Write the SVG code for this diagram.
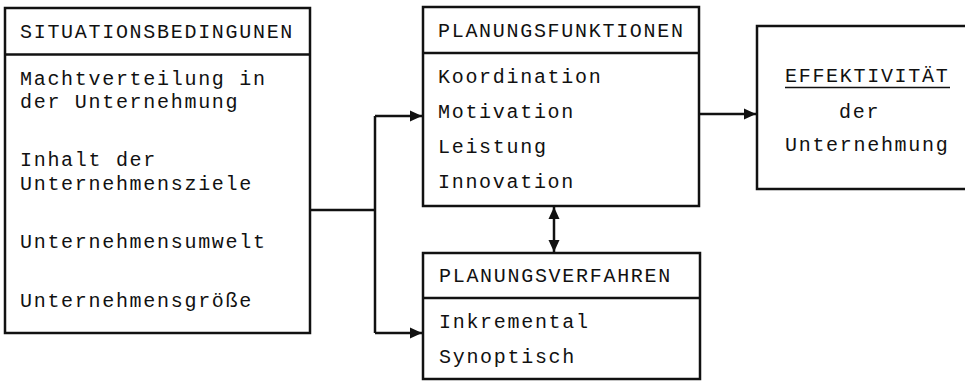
<svg xmlns="http://www.w3.org/2000/svg" width="965" height="381" viewBox="0 0 965 381">
<defs>
<style>
.box{fill:#fff;stroke:#111;stroke-width:2.5}
.div{stroke:#111;stroke-width:2.5;fill:none}
.con{stroke:#111;stroke-width:2.5;fill:none}
text{font-family:"Liberation Mono","DejaVu Sans Mono",monospace;font-size:20px;letter-spacing:1.7px;fill:#111}
</style>
<marker id="ah" markerUnits="userSpaceOnUse" markerWidth="14" markerHeight="12" refX="12" refY="6" orient="auto-start-reverse">
<path d="M0,0.5 L12,6 L0,11.5 Z" fill="#111"/>
</marker>
</defs>
<rect width="965" height="381" fill="#fff"/>
<g id="connectors">
<polyline class="con" points="310,210 375,210"/>
<polyline class="con" points="375,116 375,333"/>
<line class="con" x1="375" y1="116" x2="422" y2="116" marker-end="url(#ah)"/>
<line class="con" x1="375" y1="333" x2="422" y2="333" marker-end="url(#ah)"/>
<line class="con" x1="554" y1="207" x2="554" y2="252" marker-start="url(#ah)" marker-end="url(#ah)"/>
<line class="con" x1="699" y1="114" x2="756" y2="114" marker-end="url(#ah)"/>
</g>
<g id="situationsbedingungen">
<rect class="box" x="5" y="8" width="305" height="325"/>
<line class="div" x1="5" y1="54.5" x2="310" y2="54.5"/>
<text x="20" y="38">SITUATIONSBEDINGUNEN</text>
<text x="20" y="84.5">Machtverteilung in</text>
<text x="20" y="108">der Unternehmung</text>
<text x="20" y="166">Inhalt der</text>
<text x="20" y="190">Unternehmensziele</text>
<text x="20" y="248">Unternehmensumwelt</text>
<text x="20" y="307">Unternehmensgröße</text>
</g>
<g id="planungsfunktionen">
<rect class="box" x="423" y="7" width="276" height="199"/>
<line class="div" x1="423" y1="53" x2="699" y2="53"/>
<text x="438" y="37">PLANUNGSFUNKTIONEN</text>
<text x="438" y="83">Koordination</text>
<text x="438" y="118">Motivation</text>
<text x="438" y="153">Leistung</text>
<text x="438" y="188">Innovation</text>
</g>
<g id="planungsverfahren">
<rect class="box" x="423" y="253" width="277" height="126"/>
<line class="div" x1="423" y1="298" x2="700" y2="298"/>
<text x="439" y="282">PLANUNGSVERFAHREN</text>
<text x="439" y="328">Inkremental</text>
<text x="439" y="363">Synoptisch</text>
</g>
<g id="effektivitaet">
<rect class="box" x="757" y="26" width="220" height="163"/>
<text x="785" y="82">EFFEKTIVITÄT</text>
<line x1="785" y1="87.5" x2="950" y2="87.5" stroke="#111" stroke-width="1.5"/>
<text x="839" y="118">der</text>
<text x="785" y="151">Unternehmung</text>
</g>
</svg>
